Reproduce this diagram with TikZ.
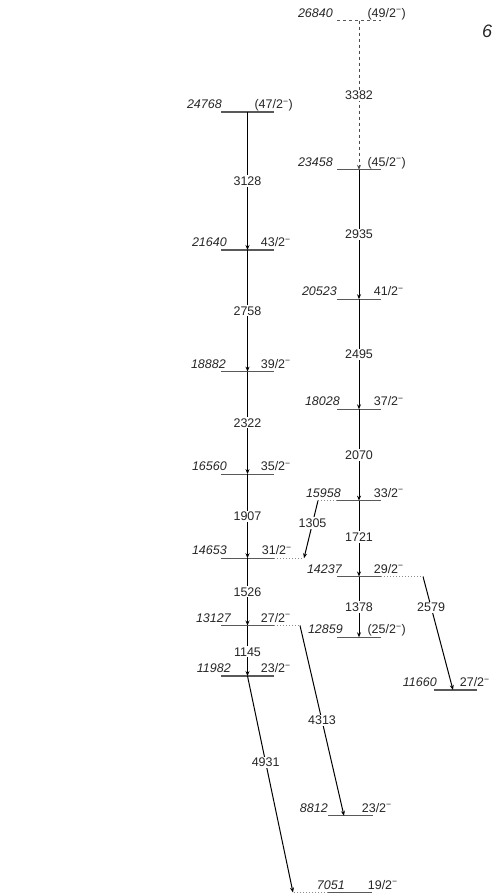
\documentclass[tikz,border=0pt]{standalone}
\usepackage{fontspec}
\setmainfont{Liberation Sans}
\usetikzlibrary{arrows.meta}
\newcommand\mn{\textsuperscript{\char"2212}}
% #1 extra style, #2 name, #3 xl, #4 xr, #5 y, #6 energy, #7 energy right x, #8 spin, #9 spin right x
\newcommand\Lvl[9][]{%
  \draw[lev,#1] (#3,#5) coordinate (#2l) -- (#4,#5) coordinate (#2r);
  \node[elab] (#2e) at (#7,#5-3.5) {#6};
  \node[slab] (#2s) at (#9,#5-3.5) {#8};
}
\begin{document}
\begin{tikzpicture}[x=1pt,y=-1pt,
  lev/.style={line width=1.2pt, draw=black!65},
  levdot/.style={line width=1pt, draw=black!45, dotted},
  tr/.style={line width=1pt, draw=black, -{Stealth[length=5pt,width=4pt]}},
  tlab/.style={fill=white, inner sep=1.2pt, text=black!85, font=\fontsize{12.5}{14}\selectfont},
  elab/.style={anchor=base east, inner sep=0pt, text=black!85, font=\fontsize{12.5}{14}\selectfont\itshape},
  slab/.style={anchor=base east, inner sep=0pt, text=black!85, font=\fontsize{12.5}{14}\selectfont},
]
\useasboundingbox (0,0) rectangle (493,896);

% column A
\Lvl{A24768}{221}{274}{112}{24768}{222}{(47/2\mn)}{293}
\Lvl{A21640}{221}{274}{250}{21640}{227}{43/2\mn}{291}
\Lvl{A18882}{221}{274}{371.6}{18882}{226}{39/2\mn}{291}
\Lvl{A16560}{221}{274}{474.1}{16560}{227}{35/2\mn}{291}
\Lvl{A14653}{221}{274}{558.2}{14653}{227}{31/2\mn}{292}
\Lvl{A13127}{221}{274}{625.5}{13127}{231}{27/2\mn}{291}
\Lvl{A11982}{221}{274}{676}{11982}{231}{23/2\mn}{291}
% column B
\Lvl[dashed]{B26840}{337}{381}{20.6}{26840}{333}{(49/2\mn)}{406}
\Lvl{B23458}{337}{381}{169.8}{23458}{333}{(45/2\mn)}{406}
\Lvl{B20523}{337}{381}{299.2}{20523}{337}{41/2\mn}{404}
\Lvl{B18028}{337}{381}{409.3}{18028}{340}{37/2\mn}{404}
\Lvl{B15958}{337}{381}{500.6}{15958}{341}{33/2\mn}{404}
\Lvl{B14237}{337}{381}{576.5}{14237}{342}{29/2\mn}{404}
\Lvl{B12859}{337}{381}{637.3}{12859}{343}{(25/2\mn)}{406}
% lower levels
\Lvl{C8812}{328}{373}{815.8}{8812}{328}{23/2\mn}{392}
\Lvl{C7051}{328}{372}{892.5}{7051}{345}{19/2\mn}{398}
\Lvl{D11660}{434}{477}{690}{11660}{437}{27/2\mn}{490}

% dotted extensions
\draw[levdot] (A14653r) -- (304,558.2) coordinate (A14653x);
\draw[levdot] (A13127r) -- (300,625.5) coordinate (A13127x);
\draw[levdot] (B15958l) -- (318,500.6) coordinate (B15958x);
\draw[levdot] (B14237r) -- (423,576.5) coordinate (B14237x);
\draw[levdot] (C7051l) -- (293,892.5) coordinate (C7051x);

% transition points
\coordinate (a24768) at (247.5,112);
\coordinate (a21640) at (247.5,250);
\coordinate (a18882) at (247.5,371.6);
\coordinate (a16560) at (247.5,474.1);
\coordinate (a14653) at (247.5,558.2);
\coordinate (a13127) at (247.5,625.5);
\coordinate (a11982) at (247.5,676);
\coordinate (b26840) at (359,20.6);
\coordinate (b23458) at (359,169.8);
\coordinate (b20523) at (359,299.2);
\coordinate (b18028) at (359,409.3);
\coordinate (b15958) at (359,500.6);
\coordinate (b14237) at (359,576.5);
\coordinate (b12859) at (359,637.3);
\coordinate (c8812) at (344,815.8);
\coordinate (d11660) at (453,690);

% transitions
\draw[tr,dashed,draw=black!70] (b26840) -- node[tlab] (t3382) {3382} (b23458);
\draw[tr] (a24768) -- node[tlab] (t3128) {3128} (a21640);
\draw[tr] (b23458) -- node[tlab] (t2935) {2935} (b20523);
\draw[tr] (a21640) -- node[tlab] (t2758) {2758} (a18882);
\draw[tr] (b20523) -- node[tlab] (t2495) {2495} (b18028);
\draw[tr] (a18882) -- node[tlab] (t2322) {2322} (a16560);
\draw[tr] (b18028) -- node[tlab] (t2070) {2070} (b15958);
\draw[tr] (a16560) -- node[tlab] (t1907) {1907} (a14653);
\draw[tr] (b15958) -- node[tlab,pos=0.48] (t1721) {1721} (b14237);
\draw[tr] (B15958x) -- node[tlab,pos=0.39] (t1305) {1305} (A14653x);
\draw[tr] (a14653) -- node[tlab] (t1526) {1526} (a13127);
\draw[tr] (b14237) -- node[tlab] (t1378) {1378} (b12859);
\draw[tr] (B14237x) -- node[tlab,pos=0.27] (t2579) {2579} (d11660);
\draw[tr] (a13127) -- node[tlab,pos=0.52] (t1145) {1145} (a11982);
\draw[tr] (A13127x) -- node[tlab,pos=0.5] (t4313) {4313} (c8812);
\draw[tr] (a11982) -- node[tlab,pos=0.4] (t4931) {4931} (C7051x);

% cut-off label at the right edge
\node[anchor=base west, inner sep=0pt, text=black!85, font=\fontsize{18}{20}\selectfont\itshape] (six) at (482,38) {6};
\end{tikzpicture}
\end{document}
